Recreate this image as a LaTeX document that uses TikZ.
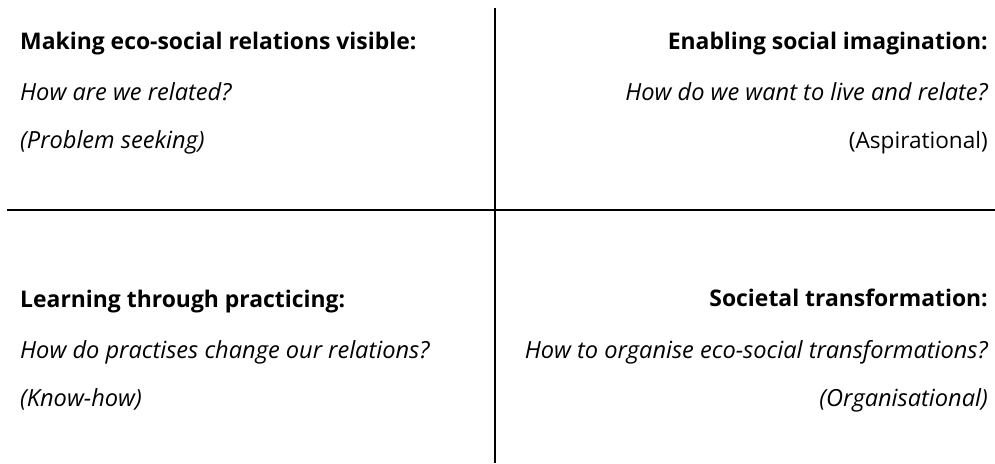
\documentclass[tikz,border=0pt]{standalone}
\usepackage{fontspec}
\setmainfont{Open Sans}
\begin{document}
\begin{tikzpicture}[x=1pt,y=-1pt,
  divider/.style={line width=2pt,black},
  headL/.style={anchor=base west,inner sep=0pt,font=\fontsize{22.9}{27}\selectfont\bfseries},
  headR/.style={anchor=base east,inner sep=0pt,font=\fontsize{22.9}{27}\selectfont\bfseries},
  askL/.style={anchor=base west,inner sep=0pt,font=\fontsize{23.6}{28}\selectfont\itshape},
  askR/.style={anchor=base east,inner sep=0pt,font=\fontsize{23.6}{28}\selectfont\itshape},
  noteR/.style={anchor=base east,inner sep=0pt,font=\fontsize{22.6}{27}\selectfont}]
\useasboundingbox (0,0) rectangle (995,463);
% quadrant dividers
\coordinate (vtop) at (494.5,8);
\coordinate (vbot) at (494.5,463);
\coordinate (hleft) at (7,210);
\coordinate (hright) at (995,210);
\draw[divider] (vtop) -- (vbot);
\draw[divider] (hleft) -- (hright);
% top left
\node[headL] (tl1) at (20,49) {Making eco-social relations visible:};
\node[askL] (tl2) at (20,100) {How are we related?};
\node[askL] (tl3) at (20,148) {(Problem seeking)};
% top right
\node[headR] (tr1) at (988,49) {Enabling social imagination:};
\node[askR] (tr2) at (988,100) {How do we want to live and relate?};
\node[noteR] (tr3) at (988,148) {(Aspirational)};
% bottom left
\node[headL] (bl1) at (20,307) {Learning through practicing:};
\node[askL] (bl2) at (20,358) {How do practises change our relations?};
\node[askL] (bl3) at (20,406) {(Know-how)};
% bottom right
\node[headR] (br1) at (988,306) {Societal transformation:};
\node[askR] (br2) at (988,358) {How to organise eco-social transformations?};
\node[askR] (br3) at (988,406) {(Organisational)};
\end{tikzpicture}
\end{document}
